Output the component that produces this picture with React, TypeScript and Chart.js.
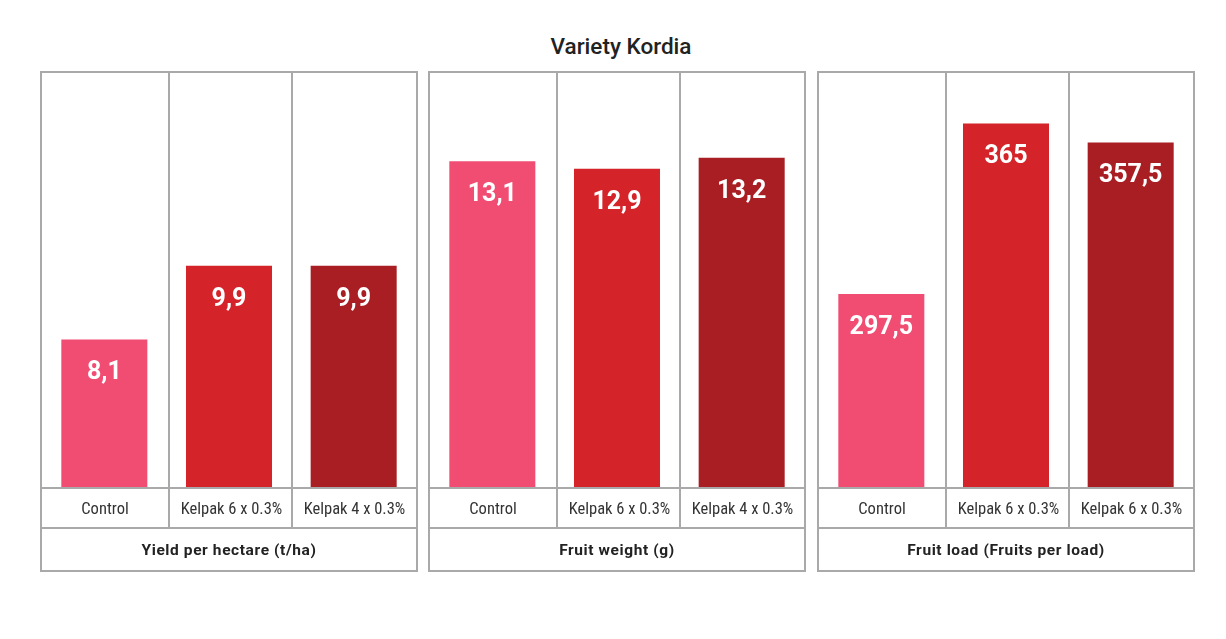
import React, { useEffect, useRef } from "react";
import { Chart, registerables } from "chart.js";

Chart.register(...registerables);

// ---- data ----
const chartTitle = "Variety Kordia";
const yieldCategories = ["Control", "Kelpak 6 x 0.3%", "Kelpak 4 x 0.3%"];
const weightCategories = ["Control", "Kelpak 6 x 0.3%", "Kelpak 4 x 0.3%"];
const loadCategories = ["Control", "Kelpak 6 x 0.3%", "Kelpak 6 x 0.3%"];
const yieldValues = [8.1, 9.9, 9.9];
const weightValues = [13.1, 12.9, 13.2];
const loadValues = [297.5, 365, 357.5];
const panelTitles = ["Yield per hectare (t/ha)", "Fruit weight (g)", "Fruit load (Fruits per load)"];
// value-axis ranges of each panel (the original bars start from a non-zero baseline)
const yieldRange = [4.5, 14.6];
const weightRange = [4.25, 15.5];
const loadRange = [221, 385];

const barColors = ["#f14d73", "#d42329", "#a81e23"];
const borderColor = "#a9a9a9";

const formatValue = (v: number) => String(v).replace(".", ",");

const valueLabelPlugin = {
  id: "valueLabels",
  afterDatasetsDraw(chart: any) {
    const ctx = chart.ctx;
    const meta = chart.getDatasetMeta(0);
    const data = chart.data.datasets[0].data as number[];
    ctx.save();
    ctx.fillStyle = "#ffffff";
    ctx.font = "bold 25px Roboto, 'DejaVu Sans', sans-serif";
    ctx.textAlign = "center";
    ctx.textBaseline = "alphabetic";
    meta.data.forEach((el: any, i: number) => {
      ctx.fillText(formatValue(data[i]), el.x, el.y + 40);
    });
    ctx.restore();
  },
};

type PanelProps = {
  left: number;
  categories: string[];
  values: number[];
  range: number[];
  title: string;
};

const TOP = 71;
const PANEL_W = 378;
const PANEL_H = 501;
const BASE_Y = 487; // top of category row line
const CAT_Y = 527; // top of title row line
const DIVIDERS = [128, 251];

function Panel({ left, categories, values, range, title }: PanelProps) {
  const ref = useRef<HTMLCanvasElement | null>(null);
  useEffect(() => {
    if (!ref.current) return;
    const chart = new Chart(ref.current, {
      type: "bar",
      data: {
        labels: categories,
        datasets: [
          {
            data: values,
            backgroundColor: barColors,
            borderWidth: 0,
            categoryPercentage: 1,
            barPercentage: 0.69,
          },
        ],
      },
      options: {
        animation: false,
        responsive: false,
        maintainAspectRatio: false,
        layout: { padding: 0 },
        plugins: { legend: { display: false }, tooltip: { enabled: false }, title: { display: false } },
        scales: {
          x: { display: false, offset: true },
          y: { display: false, min: range[0], max: range[1] },
        },
      },
      plugins: [valueLabelPlugin],
    });
    return () => chart.destroy();
  }, []);

  const innerLeft = left + 2;
  const innerW = PANEL_W - 4;
  const colEdges = [0, DIVIDERS[0] + 2, DIVIDERS[1] + 2, PANEL_W - 2];

  return (
    <>
      <div
        style={{
          position: "absolute",
          left,
          top: TOP,
          width: PANEL_W,
          height: PANEL_H,
          border: `2px solid ${borderColor}`,
          boxSizing: "border-box",
        }}
      />
      <canvas
        ref={ref}
        width={innerW}
        height={BASE_Y - (TOP + 2)}
        style={{ position: "absolute", left: innerLeft, top: TOP + 2, width: innerW, height: BASE_Y - (TOP + 2) }}
      />
      {DIVIDERS.map((d, i) => (
        <div
          key={"d" + i}
          style={{ position: "absolute", left: left + d, top: TOP, width: 2, height: CAT_Y - TOP, background: borderColor }}
        />
      ))}
      <div style={{ position: "absolute", left, top: BASE_Y, width: PANEL_W, height: 2, background: borderColor }} />
      <div style={{ position: "absolute", left, top: CAT_Y, width: PANEL_W, height: 2, background: borderColor }} />
      {categories.map((c, i) => (
        <div
          key={"c" + i}
          style={{
            position: "absolute",
            left: left + colEdges[i],
            top: BASE_Y + 2,
            width: colEdges[i + 1] - colEdges[i],
            height: CAT_Y - BASE_Y - 2,
            display: "flex",
            alignItems: "center",
            justifyContent: "center",
            fontFamily: "'Roboto Condensed', 'Liberation Sans Narrow', Roboto, sans-serif",
            fontStretch: "condensed",
            fontSize: 16.5,
            color: "#333",
          }}
        >
          {c}
        </div>
      ))}
      <div
        style={{
          position: "absolute",
          left,
          top: CAT_Y + 2,
          width: PANEL_W,
          height: TOP + PANEL_H - CAT_Y - 4,
          display: "flex",
          alignItems: "center",
          justifyContent: "center",
          fontFamily: "Roboto, sans-serif",
          fontWeight: 700,
          fontSize: 15.5,
          letterSpacing: 0.6,
          color: "#222",
        }}
      >
        {title}
      </div>
    </>
  );
}

export default function App() {
  return (
    <div style={{ position: "absolute", left: 0, top: 0, width: 1226, height: 639, background: "#fff" }}>
      <div
        style={{
          position: "absolute",
          left: 0,
          top: 33,
          width: 1242,
          textAlign: "center",
          fontFamily: "Roboto, sans-serif",
          fontWeight: 500,
          fontSize: 22.5,
          color: "#222",
        }}
      >
        {chartTitle}
      </div>
      <Panel left={40} categories={yieldCategories} values={yieldValues} range={yieldRange} title={panelTitles[0]} />
      <Panel left={428} categories={weightCategories} values={weightValues} range={weightRange} title={panelTitles[1]} />
      <Panel left={817} categories={loadCategories} values={loadValues} range={loadRange} title={panelTitles[2]} />
    </div>
  );
}
